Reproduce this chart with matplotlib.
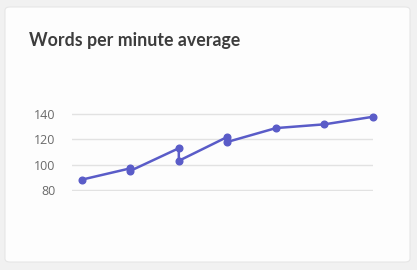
import matplotlib.pyplot as plt
from matplotlib.patches import FancyBboxPatch

# session index (repeated index = two readings in the same session)
session = [0, 1, 1, 2, 2, 3, 3, 4, 5, 6]
wpm = [88, 97, 95, 113, 103, 122, 118, 129, 132, 138]
yticks = [80, 100, 120, 140]
title = "Words per minute average"

W, H = 417, 270
fig = plt.figure(figsize=(W / 100, H / 100), dpi=100)
fig.patch.set_facecolor("#f1f1f1")

# card background
card = FancyBboxPatch((5 / W, 8 / H), 405 / W, 255 / H,
                      boxstyle="round,pad=0,rounding_size=0.012",
                      transform=fig.transFigure, facecolor="#fdfdfd",
                      edgecolor="#e6e6e6", linewidth=0.8, zorder=-5)
fig.patches.append(card)

fig.text(29 / W, 1 - 46 / H, title, fontsize=12.8, fontweight="bold",
         family=["Lato", "DejaVu Sans"], color="#3d3d3d")

ax = fig.add_axes([72 / W, 1 - 191 / H, 301 / W, 78 / H])
ax.set_zorder(2)
ax.set_facecolor("none")
ax.plot(session, wpm, color="#5a5cc8", linewidth=1.8, marker="o",
        markersize=4.8, clip_on=False, zorder=3)

ax.set_xlim(-0.2, 6)
ax.set_ylim(79, 141)
ax.set_yticks(yticks)
ax.set_xticks([])
ax.grid(axis="y", color="#e2e2e2", linewidth=1)
for s in ax.spines.values():
    s.set_visible(False)
ax.tick_params(axis="y", length=0, pad=12, labelsize=9, labelcolor="#6a6a6a")
for lbl in ax.get_yticklabels():
    lbl.set_family(["Open Sans", "DejaVu Sans"])

fig.savefig("out.png", dpi=100, facecolor=fig.get_facecolor())
